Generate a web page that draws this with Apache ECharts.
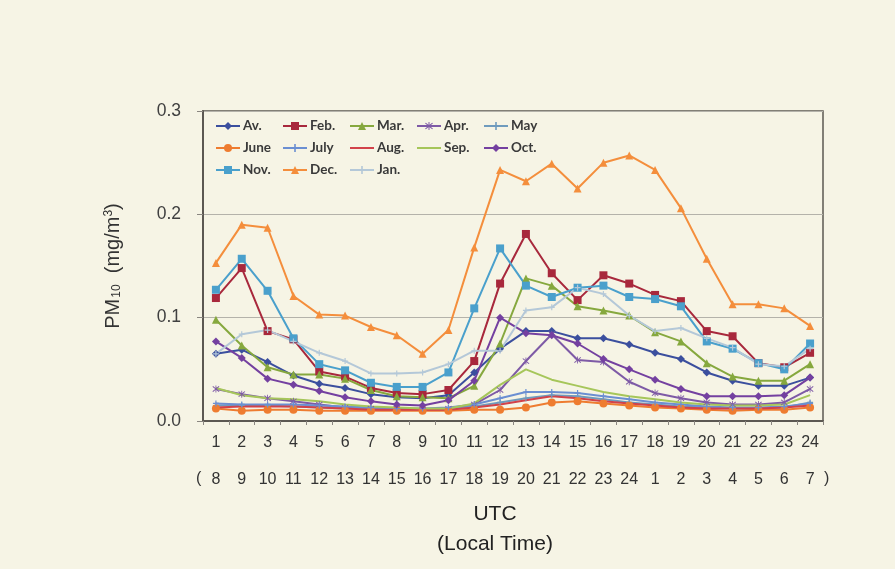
<!DOCTYPE html>
<html>
<head>
<meta charset="utf-8">
<script src="https://cdn.jsdelivr.net/npm/echarts@6/dist/echarts.min.js"></script>
<style>html,body{margin:0;padding:0;background:#f6f4e5;}#c{width:895px;height:569px;}</style>
</head>
<body>
<div id="c"></div>
<script>
const utcHours = ['1','2','3','4','5','6','7','8','9','10','11','12','13','14','15','16','17','18','19','20','21','22','23','24'];
const localHours = ['8','9','10','11','12','13','14','15','16','17','18','19','20','21','22','23','24','1','2','3','4','5','6','7'];
const yTicks = [0, 0.1, 0.2, 0.3];

const av   = [0.065,0.069,0.057,0.044,0.036,0.032,0.026,0.023,0.022,0.025,0.047,0.070,0.087,0.087,0.080,0.080,0.074,0.066,0.060,0.047,0.039,0.034,0.034,0.042];
const feb  = [0.119,0.148,0.087,0.079,0.048,0.043,0.032,0.027,0.026,0.030,0.058,0.133,0.181,0.143,0.117,0.141,0.133,0.122,0.116,0.087,0.082,0.056,0.052,0.066];
const mar  = [0.098,0.073,0.052,0.045,0.045,0.041,0.030,0.024,0.023,0.022,0.034,0.075,0.138,0.131,0.111,0.107,0.102,0.086,0.077,0.056,0.043,0.039,0.039,0.055];
const apr  = [0.031,0.026,0.022,0.019,0.016,0.013,0.012,0.012,0.011,0.012,0.016,0.030,0.058,0.084,0.059,0.057,0.038,0.027,0.022,0.018,0.016,0.016,0.018,0.031];
const may  = [0.015,0.015,0.015,0.014,0.013,0.012,0.012,0.011,0.011,0.012,0.014,0.018,0.022,0.025,0.024,0.021,0.018,0.016,0.014,0.013,0.012,0.012,0.013,0.018];
const june = [0.012,0.010,0.011,0.011,0.010,0.010,0.010,0.010,0.010,0.010,0.011,0.011,0.013,0.018,0.019,0.017,0.015,0.013,0.012,0.011,0.010,0.011,0.011,0.013];
const july = [0.017,0.016,0.016,0.016,0.015,0.014,0.013,0.012,0.012,0.013,0.016,0.022,0.028,0.028,0.027,0.024,0.021,0.018,0.016,0.014,0.013,0.013,0.014,0.017];
const aug  = [0.013,0.014,0.014,0.014,0.013,0.012,0.011,0.011,0.011,0.011,0.013,0.016,0.020,0.024,0.022,0.019,0.017,0.015,0.013,0.012,0.012,0.012,0.013,0.015];
const sep  = [0.032,0.025,0.022,0.021,0.019,0.016,0.014,0.013,0.012,0.012,0.017,0.035,0.050,0.040,0.034,0.028,0.024,0.021,0.018,0.016,0.015,0.015,0.016,0.025];
const oct  = [0.077,0.061,0.041,0.035,0.029,0.023,0.019,0.016,0.015,0.020,0.039,0.100,0.085,0.083,0.075,0.060,0.050,0.040,0.031,0.024,0.024,0.024,0.025,0.042];
const nov  = [0.127,0.157,0.126,0.080,0.055,0.049,0.037,0.033,0.033,0.047,0.109,0.167,0.131,0.120,0.129,0.131,0.120,0.118,0.111,0.077,0.070,0.056,0.050,0.075];
const dec  = [0.153,0.190,0.187,0.121,0.103,0.102,0.091,0.083,0.065,0.088,0.168,0.243,0.232,0.249,0.225,0.250,0.257,0.243,0.206,0.157,0.113,0.113,0.109,0.092];
const jan  = [0.065,0.084,0.088,0.077,0.066,0.058,0.046,0.046,0.047,0.055,0.068,0.068,0.107,0.110,0.129,0.123,0.102,0.087,0.090,0.080,0.071,0.055,0.053,0.070];

const seriesNames = ['Av.','Feb.','Mar.','Apr.','May','June','July','Aug.','Sep.','Oct.','Nov.','Dec.','Jan.'];
const seriesData  = [av, feb, mar, apr, may, june, july, aug, sep, oct, nov, dec, jan];

const PLUS = 'path://M4,0h2v4h4v2h-4v4h-2v-4h-4v-2h4z';
const STAR = 'path://M0,1L1,0L5,4L9,0L10,1L6,5L10,9L9,10L5,6L1,10L0,9L4,5Z M4.4,-1h1.2v12h-1.2z';
const styles = [
  {color:'#3b4f9e', symbol:'diamond', size:8},
  {color:'#a8283c', symbol:'rect', size:8},
  {color:'#86a83e', symbol:'triangle', size:8},
  {color:'#7e5aa6', symbol:STAR, size:7},
  {color:'#6f9bbd', symbol:PLUS, size:6},
  {color:'#ee7c30', symbol:'circle', size:8},
  {color:'#6b8fd2', symbol:PLUS, size:6},
  {color:'#d2424a', symbol:'none', size:0},
  {color:'#a6c65a', symbol:'none', size:0},
  {color:'#7440a0', symbol:'diamond', size:8},
  {color:'#4aa0cc', symbol:'rect', size:8},
  {color:'#f48e3c', symbol:'triangle', size:8},
  {color:'#b4c8d8', symbol:PLUS, size:6}
];

const FONT = '"Liberation Sans", Arial, sans-serif';

const legends = seriesNames.map((n, i) => {
  const noMarker = styles[i].symbol === 'none';
  return {
    data: [n],
    left: 210 + (i % 5) * 67,
    top: 114 + Math.floor(i / 5) * 22,
    itemWidth: 24,
    itemHeight: 10,
    itemGap: 4,
    itemStyle: noMarker ? {opacity: 0} : {},
    lineStyle: {width: 2, color: styles[i].color, opacity: 1},
    textStyle: {fontFamily: 'Lato, sans-serif', fontWeight: 'bold', fontSize: 13.5, color: '#3a3a3a', padding:[0,0,0,-2]}
  };
});

const series = seriesNames.map((n, i) => ({
  name: n,
  type: 'line',
  data: seriesData[i],
  symbol: styles[i].symbol,
  symbolSize: styles[i].size,
  showSymbol: styles[i].symbol !== 'none',
  lineStyle: {width: 2, color: styles[i].color},
  itemStyle: {color: styles[i].color},
  emphasis: {disabled: true}
}));

const chart = echarts.init(document.getElementById('c'), null, {renderer: 'canvas'});
chart.setOption({
  backgroundColor: '#f6f4e5',
  animation: false,
  legend: legends,
  grid: {left: 203, right: 72, top: 111, bottom: 148, show: true, borderColor: '#5c5852', borderWidth: 1.5, backgroundColor: 'transparent'},
  xAxis: {
    type: 'category',
    data: utcHours,
    boundaryGap: true,
    axisLine: {lineStyle: {color: '#5c5852', width: 2}},
    axisTick: {show: true, length: 4, lineStyle: {color: '#8a8680'}},
    axisLabel: {
      interval: 0,
      margin: 3,
      fontFamily: FONT,
      fontSize: 16,
      color: '#333',
      lineHeight: 37,
      formatter: (v, idx) => v + '\n' + localHours[idx]
    }
  },
  yAxis: {
    type: 'value',
    min: yTicks[0],
    max: yTicks[yTicks.length - 1],
    interval: 0.1,
    axisLine: {show: true, lineStyle: {color: '#5c5852', width: 2}},
    axisTick: {show: true, length: 6, lineStyle: {color: '#8a8680'}},
    splitLine: {lineStyle: {color: '#b4b2aa', width: 1}},
    axisLabel: {margin: 22, fontFamily: FONT, fontSize: 17.5, color: '#404040', formatter: v => v.toFixed(1)},
    name: '{a|PM}{b|10}{a|  (mg/m}{c|3}{a|)}',
    nameLocation: 'middle',
    nameRotate: 90,
    nameGap: 80,
    nameTextStyle: {
      rich: {
        a: {fontFamily: FONT, fontSize: 20, color: '#333', verticalAlign: 'middle'},
        b: {fontFamily: FONT, fontSize: 12, color: '#333', verticalAlign: 'bottom', padding: [0,0,0,1]},
        c: {fontFamily: FONT, fontSize: 12, color: '#333', verticalAlign: 'top'}
      }
    }
  },
  series: series
});

const p1 = chart.convertToPixel({xAxisIndex: 0}, utcHours[0]);
const p24 = chart.convertToPixel({xAxisIndex: 0}, utcHours[utcHours.length - 1]);
const y0 = chart.convertToPixel({yAxisIndex: 0}, 0);
const mid = (p1 + p24) / 2;
chart.setOption({
  graphic: [
    {type: 'text', left: p1 - 20, top: y0 + 50, style: {text: '(', font: '16px ' + FONT, fill: '#333'}},
    {type: 'text', left: p24 + 14, top: y0 + 50, style: {text: ')', font: '16px ' + FONT, fill: '#333'}},
    {type: 'text', x: mid - 18, y: y0 + 93, style: {text: 'UTC', font: '21px ' + FONT, fill: '#222', align: 'center', verticalAlign: 'middle'}},
    {type: 'text', x: mid - 18, y: y0 + 123, style: {text: '(Local Time)', font: '21px ' + FONT, fill: '#222', align: 'center', verticalAlign: 'middle'}}
  ]
});
</script>
</body>
</html>
